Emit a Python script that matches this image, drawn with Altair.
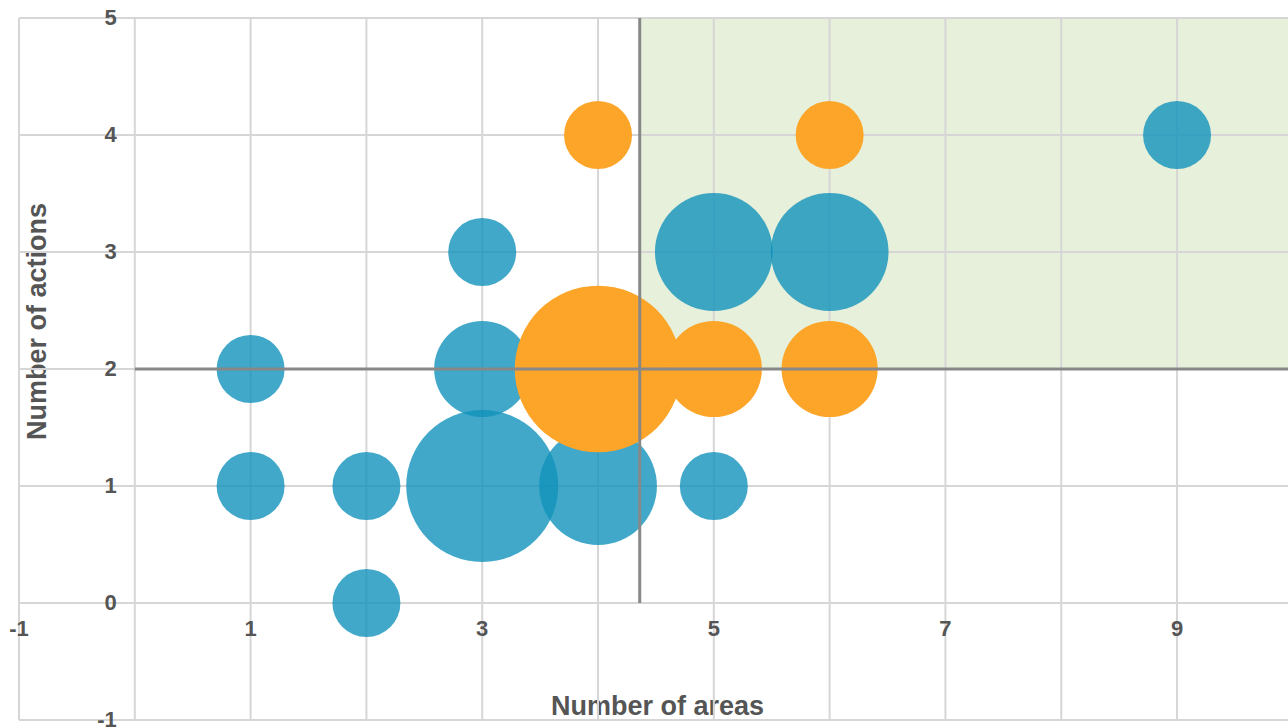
import altair as alt
import pandas as pd

# ---- data ----
blue_x = [1, 1, 2, 2, 3, 3, 3, 4, 5, 5, 6, 9]
blue_y = [2, 1, 1, 0, 3, 2, 1, 1, 3, 1, 3, 4]
blue_s = [1, 1, 1, 1, 1, 2, 5, 3, 3, 1, 3, 1]

orange_x = [4, 6, 4, 5, 6]
orange_y = [4, 4, 2, 2, 2]
orange_s = [1, 1, 6, 2, 2]

x_ticks = [-1, 1, 3, 5, 7, 9]
y_ticks = [-1, 0, 1, 2, 3, 4, 5]
grid_x = list(range(-1, 10))
grid_y = list(range(-1, 6))
x_domain = [-1, 9.958]
y_domain = [-1, 5]
quad_x = 4.36
quad_y = 2
size_domain = [0, 6]

FONT = "Liberation Sans"
TXT = "#555555"

xs = alt.Scale(domain=x_domain, nice=False, zero=False)
ys = alt.Scale(domain=y_domain, nice=False, zero=False)
ss = alt.Scale(domain=size_domain, range=[0, 27744], zero=True)

xaxis = alt.Axis(
    values=x_ticks, title="Number of areas", grid=False, ticks=False, domain=False,
    labels=False, offset=-117,
    titleFont=FONT, titleFontSize=27, titleFontWeight="bold", titleColor=TXT,
    titleX=638, titleY=111, titleBaseline="alphabetic", titleAlign="center",
)
yaxis = alt.Axis(
    values=y_ticks, title="Number of actions", grid=False, ticks=False, domain=False,
    labels=False, offset=-116,
    titleFont=FONT, titleFontSize=27, titleFontWeight="bold", titleColor=TXT,
    titleX=-90, titleY=303, titleAngle=270, titleBaseline="alphabetic", titleAlign="center",
)


def X(f="x"):
    return alt.X(f"{f}:Q", scale=xs, axis=xaxis)


def Y(f="y"):
    return alt.Y(f"{f}:Q", scale=ys, axis=yaxis)


df_rect = pd.DataFrame({"x": [quad_x], "x2": [x_domain[1]], "y": [quad_y], "y2": [y_domain[1]]})
df_gx = pd.DataFrame({"x": grid_x})
df_gy = pd.DataFrame({"y": grid_y})
df_blue = pd.DataFrame({"x": blue_x, "y": blue_y, "s": blue_s})
df_orange = pd.DataFrame({"x": orange_x, "y": orange_y, "s": orange_s})
df_qv = pd.DataFrame({"x": [quad_x], "y": [0], "y2": [y_domain[1]]})
df_qh = pd.DataFrame({"x": [0], "x2": [x_domain[1]], "y": [quad_y]})
df_xl = pd.DataFrame({"x": x_ticks, "y": [0] * len(x_ticks), "t": [str(v) for v in x_ticks]})
df_yl = pd.DataFrame({"x": [0] * len(y_ticks), "y": y_ticks, "t": [str(v) for v in y_ticks]})

rect = alt.Chart(df_rect).mark_rect(color="#e6f0db").encode(
    x=X(), x2="x2:Q", y=Y(), y2="y2:Q"
)
gx = alt.Chart(df_gx).mark_rule(color="#d6d6d6", strokeWidth=2).encode(x=X())
gy = alt.Chart(df_gy).mark_rule(color="#d6d6d6", strokeWidth=2).encode(y=Y())

blue = alt.Chart(df_blue).mark_circle(color="#1192bb", opacity=0.8, strokeWidth=0).encode(
    x=X(), y=Y(), size=alt.Size("s:Q", scale=ss, legend=None)
)
orange = alt.Chart(df_orange).mark_circle(color="#fca528", opacity=1, strokeWidth=0).encode(
    x=X(), y=Y(), size=alt.Size("s:Q", scale=ss, legend=None)
)

qv = alt.Chart(df_qv).mark_rule(color="#888888", strokeWidth=3).encode(
    x=X(), y=Y(), y2="y2:Q"
)
qh = alt.Chart(df_qh).mark_rule(color="#888888", strokeWidth=3).encode(
    x=X(), x2="x2:Q", y=Y()
)

xl = alt.Chart(df_xl).mark_text(
    font=FONT, fontSize=22, fontWeight="bold", color=TXT,
    align="center", baseline="middle", dy=26,
).encode(x=X(), y=Y(), text="t:N")
yl = alt.Chart(df_yl).mark_text(
    font=FONT, fontSize=22, fontWeight="bold", color=TXT,
    align="right", baseline="middle", dx=-18,
).encode(x=X(), y=Y(), text="t:N")

chart = (
    alt.layer(rect, gx, gy, blue, orange, qv, qh, xl, yl)
    .properties(
        width=1269,
        height=702,
        padding={"left": 19, "top": 18, "right": 0, "bottom": 8},
        autosize=alt.AutoSizeParams(type="none"),
        background="white",
    )
    .configure_view(stroke=None)
)

chart.save("out.html", embed_options={"renderer": "svg", "actions": False})
